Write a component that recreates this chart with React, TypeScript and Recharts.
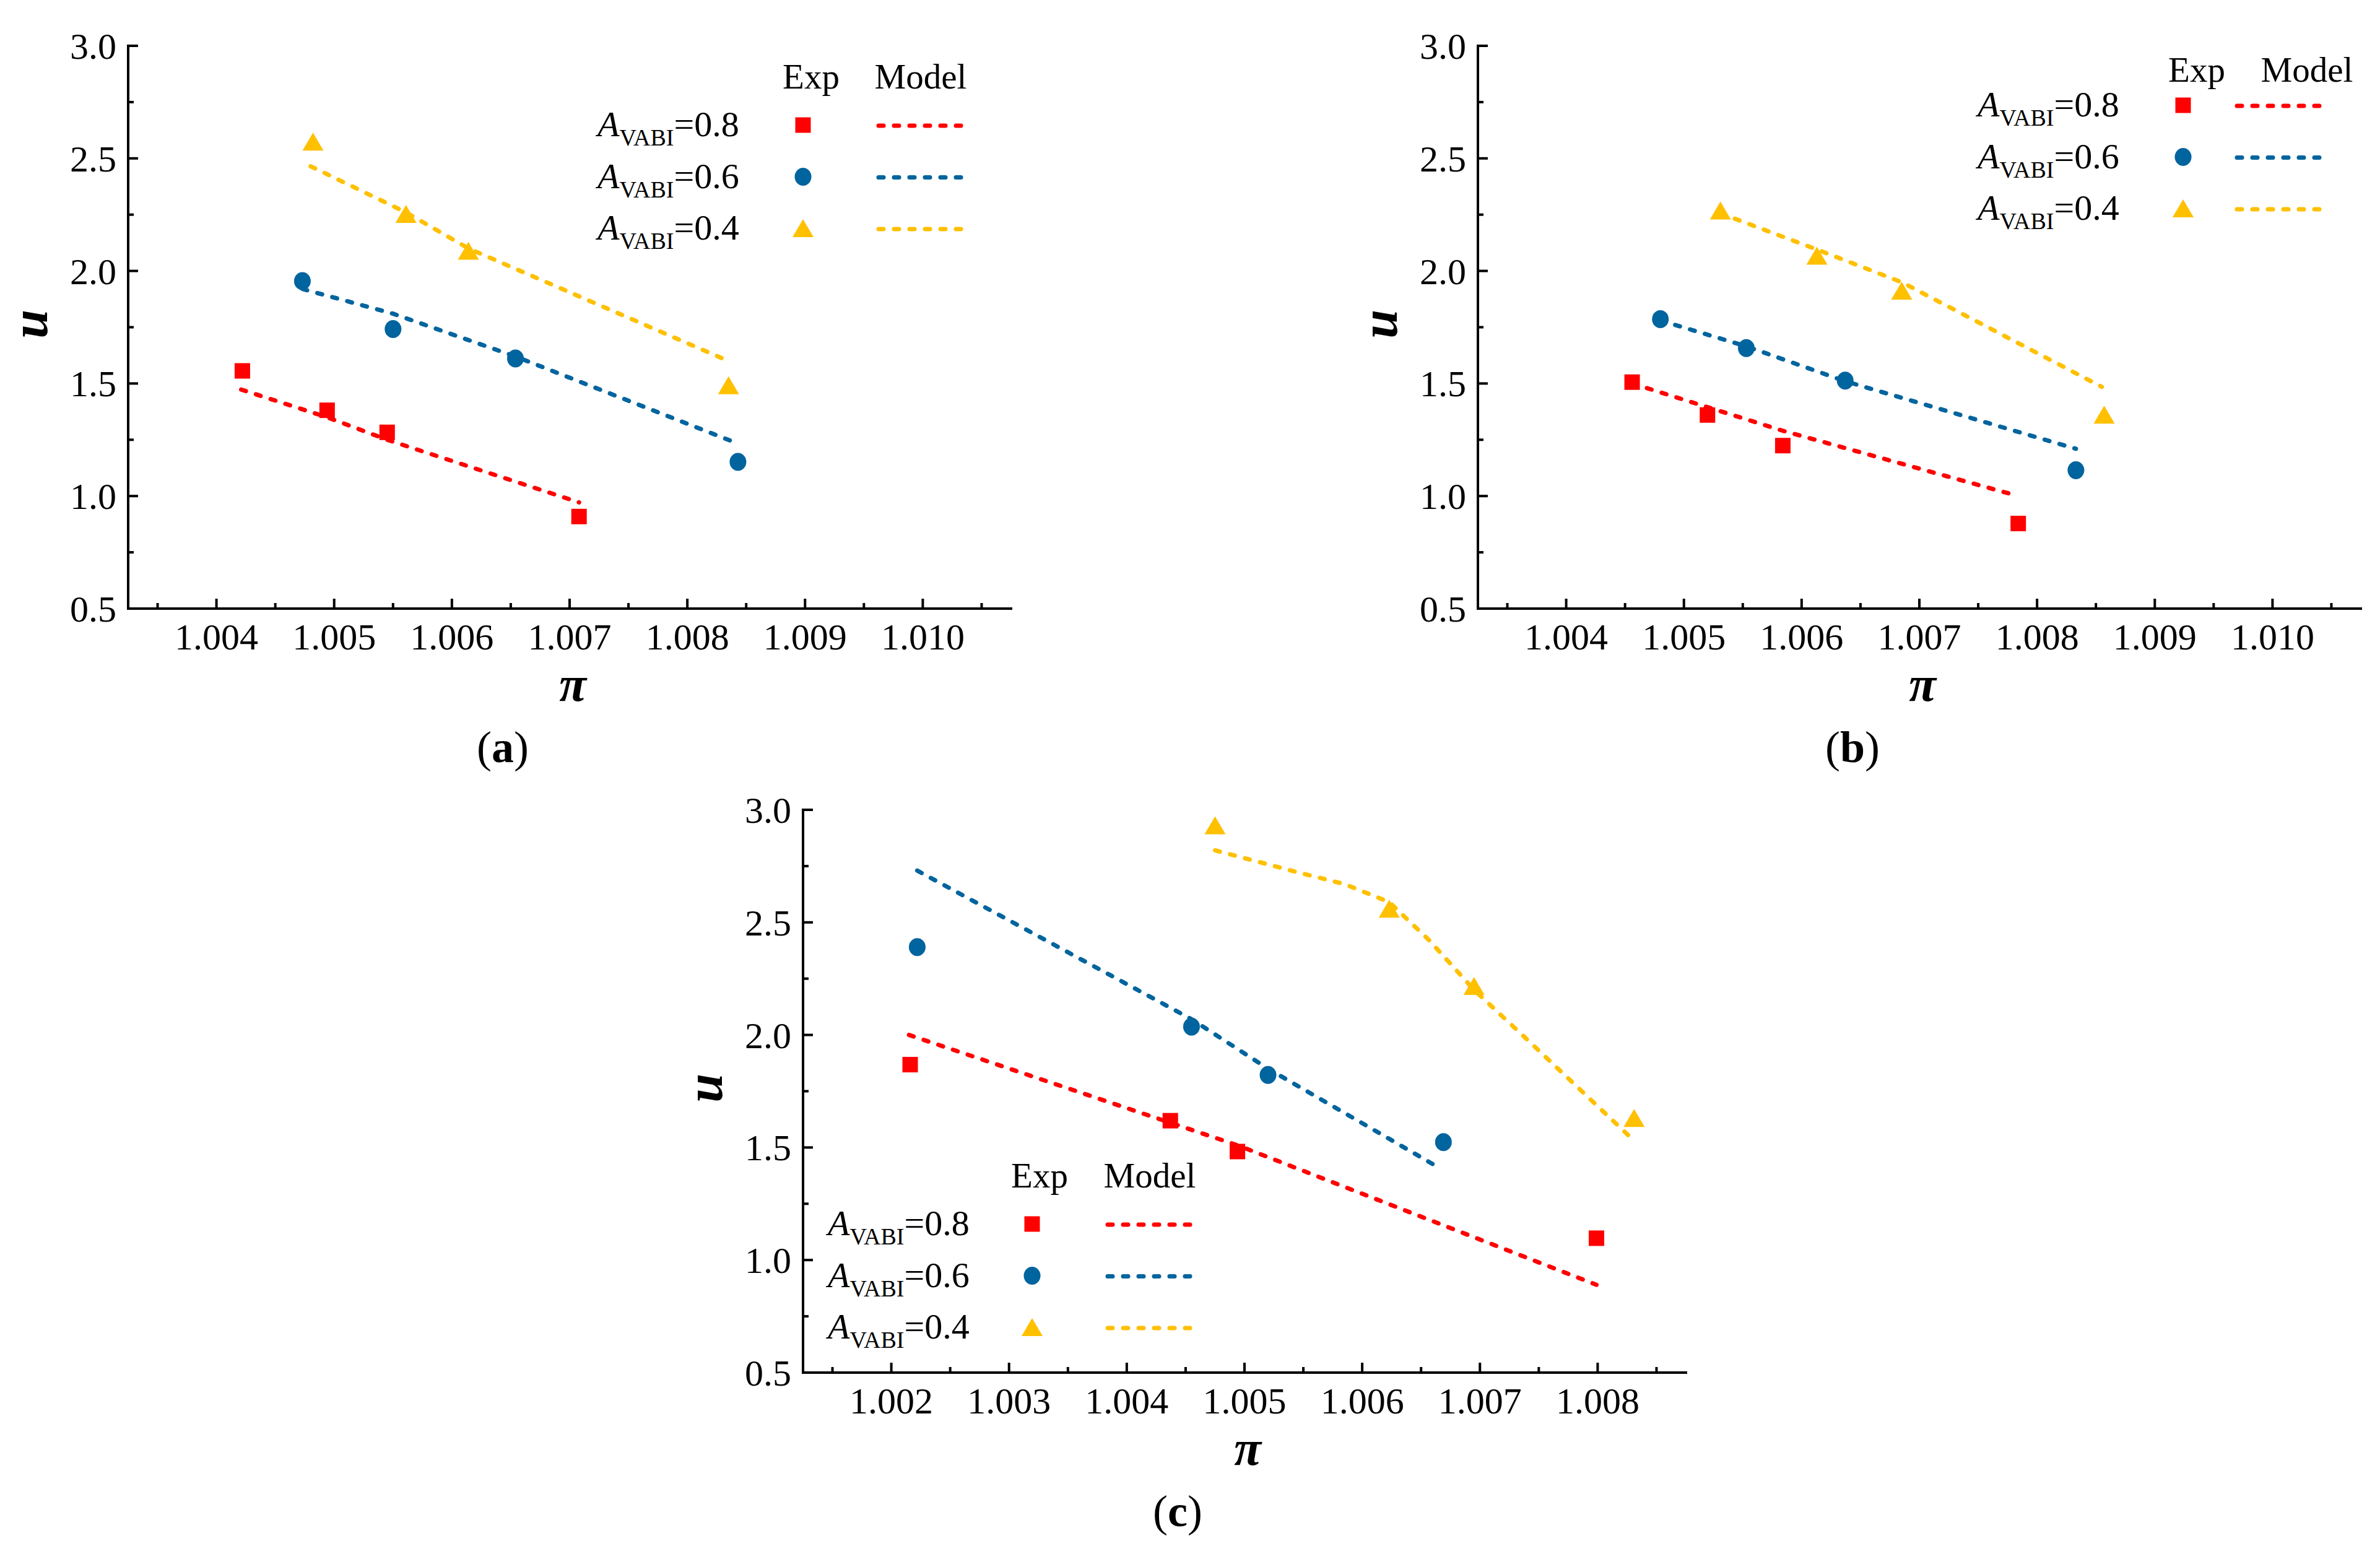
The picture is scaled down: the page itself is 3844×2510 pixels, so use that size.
import React from "react";
import { ScatterChart, Scatter, XAxis, YAxis, Legend } from "recharts";

const SERIF = '"Liberation Serif", "Times New Roman", Times, serif';
const RED = "#FF0000";
const BLUE = "#00649E";
const GOLD = "#FFC000";

type Pt = [number, number];

// (a) experiment points and model curves, [pi, u]
const a08Exp: Pt[] = [[1.00422, 1.556], [1.00494, 1.381], [1.00545, 1.283], [1.00708, 0.909]];
const a08Model: Pt[] = [[1.00421, 1.473], [1.00494, 1.35], [1.00545, 1.25], [1.00708, 0.972]];
const a06Exp: Pt[] = [[1.00473, 1.955], [1.0055, 1.742], [1.00654, 1.611], [1.00843, 1.152]];
const a06Model: Pt[] = [[1.00473, 1.92], [1.0055, 1.81], [1.00654, 1.62], [1.00843, 1.233]];
const a04Exp: Pt[] = [[1.00482, 2.573], [1.00561, 2.252], [1.00614, 2.088], [1.00835, 1.491]];
const a04Model: Pt[] = [[1.0048, 2.465], [1.00561, 2.26], [1.00614, 2.1], [1.0083, 1.611]];

// (b)
const b08Exp: Pt[] = [[1.00456, 1.506], [1.0052, 1.36], [1.00584, 1.224], [1.00784, 0.878]];
const b08Model: Pt[] = [[1.00456, 1.5], [1.0052, 1.395], [1.00584, 1.29], [1.00784, 1.0]];
const b06Exp: Pt[] = [[1.0048, 1.786], [1.00553, 1.657], [1.00637, 1.513], [1.00833, 1.115]];
const b06Model: Pt[] = [[1.0048, 1.78], [1.00553, 1.665], [1.00637, 1.51], [1.00833, 1.21]];
const b04Exp: Pt[] = [[1.00531, 2.267], [1.00613, 2.066], [1.00685, 1.911], [1.00857, 1.36]];
const b04Model: Pt[] = [[1.00531, 2.256], [1.00613, 2.095], [1.00685, 1.95], [1.00855, 1.485]];

// (c)
const c08Exp: Pt[] = [[1.00216, 1.868], [1.00437, 1.619], [1.00494, 1.482], [1.00799, 1.097]];
const c08Model: Pt[] = [[1.00215, 2.0], [1.00437, 1.61], [1.00494, 1.51], [1.00799, 0.89]];
const c06Exp: Pt[] = [[1.00222, 2.39], [1.00455, 2.037], [1.0052, 1.822], [1.00669, 1.524]];
const c06Model: Pt[] = [[1.00222, 2.73], [1.00455, 2.07], [1.0052, 1.85], [1.00667, 1.405]];
const c04Exp: Pt[] = [[1.00475, 2.93], [1.00623, 2.559], [1.00695, 2.216], [1.00831, 1.63]];
const c04Model: Pt[] = [
  [1.00475, 2.82], [1.00547, 2.72], [1.00585, 2.67], [1.00623, 2.59],
  [1.00657, 2.42], [1.00695, 2.2], [1.0074, 1.98], [1.00831, 1.53],
];

// axes
const xDomainAB: [number, number] = [1.00325, 1.01075];
const xDomainC: [number, number] = [1.00125, 1.00875];
const xMajorAB = [1.004, 1.005, 1.006, 1.007, 1.008, 1.009, 1.01];
const xMinorAB = [1.0035, 1.0045, 1.0055, 1.0065, 1.0075, 1.0085, 1.0095, 1.0105];
const xMajorC = [1.002, 1.003, 1.004, 1.005, 1.006, 1.007, 1.008];
const xMinorC = [1.0015, 1.0025, 1.0035, 1.0045, 1.0055, 1.0065, 1.0075, 1.0085];
const yMajor = [0.5, 1.0, 1.5, 2.0, 2.5, 3.0];
const yMinor = [0.75, 1.25, 1.75, 2.25, 2.75];
const legendValues = ["0.8", "0.6", "0.4"];

const PLOT_W = 1426;
const PLOT_H = 909;
const PAD = 40; // extra room left of the y axis block
const ML = 207;
const MT = 74;
const MR = 30;
const XAXIS_H = 280;

const toPts = (arr: Pt[]) => arr.map(([x, y]) => ({ x, y }));
const near = (list: number[], v: number) => list.some((m) => Math.abs(m - v) < 1e-9);

const SquareDot = ({ cx, cy }: any) => (
  <rect x={cx - 12.5} y={cy - 12.5} width={25} height={25} fill={RED} />
);
const RoundDot = ({ cx, cy }: any) => <ellipse cx={cx} cy={cy} rx={13.5} ry={14.5} fill={BLUE} />;
const TriDot = ({ cx, cy }: any) => (
  <polygon points={`${cx},${cy - 15} ${cx + 17},${cy + 14} ${cx - 17},${cy + 14}`} fill={GOLD} />
);
const NoDot = () => <g />;

const dash = (color: string) => ({
  stroke: color,
  strokeWidth: 7,
  strokeDasharray: "8 17",
  strokeLinecap: "round" as const,
});

const makeXTick = (majors: number[]) => (props: any) => {
  const { x, y, payload } = props;
  const v = payload.value as number;
  const major = near(majors, v);
  return (
    <g>
      <line x1={x} x2={x} y1={y} y2={y - (major ? 16 : 9)} stroke="#000" strokeWidth={4} />
      {major && (
        <text x={x} y={y + 66} textAnchor="middle" fontSize={60} fontFamily={SERIF} fill="#000">
          {v.toFixed(3)}
        </text>
      )}
    </g>
  );
};

const YTick = (props: any) => {
  const { x, y, payload } = props;
  const v = payload.value as number;
  const major = near(yMajor, v);
  return (
    <g>
      <line x1={x} x2={x + (major ? 16 : 9)} y1={y} y2={y} stroke="#000" strokeWidth={4} />
      {major && (
        <text x={x - 19} y={y + 21} textAnchor="end" fontSize={60} fontFamily={SERIF} fill="#000">
          {v.toFixed(1)}
        </text>
      )}
    </g>
  );
};

const makeXLabel = (tag: string) => (props: any) => {
  const { x, y, width } = props.viewBox;
  const cx = x + width / 2;
  return (
    <g>
      <text x={cx + 5} y={y + 149} textAnchor="middle" fontSize={80} fontStyle="italic" fontWeight="bold" fontFamily={SERIF} fill="#000">
        π
      </text>
      <text x={cx - 108} y={y + 248} textAnchor="middle" fontSize={72} fontFamily={SERIF} fill="#000">
        (<tspan fontWeight="bold">{tag}</tspan>)
      </text>
    </g>
  );
};

const YLabel = (props: any) => {
  const { x, y, width, height } = props.viewBox;
  const bx = x + width - 131;
  const by = y + height / 2 - 5;
  return (
    <text x={bx} y={by} transform={`rotate(-90 ${bx} ${by})`} textAnchor="middle" fontSize={84} fontStyle="italic" fontWeight="bold" fontFamily={SERIF} fill="#000">
      u
    </text>
  );
};

interface LegendCfg {
  x: number;
  y: number;
  rowDy: number;
  expDx: number;
  modelDx: number;
  markDx: number;
  lineDx: number;
}

const legendRows = [
  { value: legendValues[0], color: RED, Mark: SquareDot },
  { value: legendValues[1], color: BLUE, Mark: RoundDot },
  { value: legendValues[2], color: GOLD, Mark: TriDot },
];

function LegendBox({ cfg }: { cfg: LegendCfg }) {
  return (
    <svg width={660} height={330} style={{ display: "block", overflow: "visible" }}>
      <text x={cfg.expDx} y={60} textAnchor="middle" fontSize={57} fontFamily={SERIF} fill="#000">
        Exp
      </text>
      <text x={cfg.modelDx} y={60} textAnchor="middle" fontSize={57} fontFamily={SERIF} fill="#000">
        Model
      </text>
      {legendRows.map((r, i) => {
        const by = 60 + cfg.rowDy + i * 83.5;
        const Mark = r.Mark;
        return (
          <g key={r.value}>
            <text x={0} y={by} fontSize={58} fontFamily={SERIF} fill="#000">
              <tspan fontStyle="italic">A</tspan>
              <tspan fontSize={38} dy={15}>VABI</tspan>
              <tspan dy={-15}>={r.value}</tspan>
            </text>
            <Mark cx={cfg.markDx} cy={by - 18} />
            <line x1={cfg.lineDx} x2={cfg.lineDx + 148} y1={by - 17} y2={by - 17} {...dash(r.color)} />
          </g>
        );
      })}
    </svg>
  );
}

interface PanelProps {
  plotLeft: number;
  plotTop: number;
  tag: string;
  domain: [number, number];
  majors: number[];
  minors: number[];
  exp: Pt[][];
  model: Pt[][];
  legend: LegendCfg;
}

function Panel({ plotLeft, plotTop, tag, domain, majors, minors, exp, model, legend }: PanelProps) {
  const xTicks = [...majors, ...minors].sort((p, q) => p - q);
  const yTicks = [...yMajor, ...yMinor].sort((p, q) => p - q);
  const frame = { stroke: "#000", strokeWidth: 4, strokeLinecap: "square" as const };
  const shapes = [SquareDot, RoundDot, TriDot];
  const colors = [RED, BLUE, GOLD];
  return (
    <div style={{ position: "absolute", left: plotLeft - ML - PAD, top: plotTop - MT }}>
      <ScatterChart
        width={PAD + ML + PLOT_W + MR}
        height={MT + PLOT_H + XAXIS_H}
        margin={{ top: MT, right: MR, bottom: 0, left: PAD }}
      >
        <XAxis
          type="number"
          dataKey="x"
          domain={domain}
          allowDataOverflow
          ticks={xTicks}
          interval={0}
          tickSize={0}
          tickMargin={0}
          tickLine={false}
          tick={makeXTick(majors)}
          axisLine={frame}
          height={XAXIS_H}
          label={makeXLabel(tag)}
        />
        <XAxis
          xAxisId="top"
          orientation="top"
          type="number"
          dataKey="x"
          domain={domain}
          allowDataOverflow
          tick={false}
          tickLine={false}
          axisLine={frame}
          height={0}
        />
        <YAxis
          type="number"
          dataKey="y"
          domain={[0.5, 3.0]}
          allowDataOverflow
          ticks={yTicks}
          interval={0}
          tickSize={0}
          tickMargin={0}
          tickLine={false}
          tick={YTick}
          axisLine={frame}
          width={ML}
          label={YLabel}
        />
        <YAxis
          yAxisId="right"
          orientation="right"
          type="number"
          dataKey="y"
          domain={[0.5, 3.0]}
          allowDataOverflow
          tick={false}
          tickLine={false}
          axisLine={frame}
          width={0}
        />
        {model.map((m, i) => (
          <Scatter
            key={`m${i}`}
            data={toPts(m)}
            line={dash(colors[i])}
            shape={NoDot}
            isAnimationActive={false}
          />
        ))}
        {exp.map((e, i) => (
          <Scatter key={`e${i}`} data={toPts(e)} shape={shapes[i]} isAnimationActive={false} />
        ))}
        <Legend
          layout="vertical"
          align="center"
          verticalAlign="middle"
          wrapperStyle={{ left: PAD + ML + legend.x, top: MT + legend.y - 60, width: 660, height: 330 }}
          content={() => <LegendBox cfg={legend} />}
        />
      </ScatterChart>
    </div>
  );
}

export default function App() {
  return (
    <div
      style={{
        position: "absolute",
        left: 0,
        top: 0,
        width: 3844,
        height: 2510,
        background: "#fff",
        overflow: "hidden",
      }}
    >
      <Panel
        plotLeft={207}
        plotTop={74}
        tag="a"
        domain={xDomainAB}
        majors={xMajorAB}
        minors={xMinorAB}
        exp={[a08Exp, a06Exp, a04Exp]}
        model={[a08Model, a06Model, a04Model]}
        legend={{ x: 758, y: 69, rowDy: 77, expDx: 345, modelDx: 522, markDx: 332, lineDx: 454 }}
      />
      <Panel
        plotLeft={2387}
        plotTop={74}
        tag="b"
        domain={xDomainAB}
        majors={xMajorAB}
        minors={xMinorAB}
        exp={[b08Exp, b06Exp, b04Exp]}
        model={[b08Model, b06Model, b04Model]}
        legend={{ x: 807, y: 58, rowDy: 56, expDx: 354, modelDx: 532, markDx: 332, lineDx: 419 }}
      />
      <Panel
        plotLeft={1297}
        plotTop={1308}
        tag="c"
        domain={xDomainC}
        majors={xMajorC}
        minors={xMinorC}
        exp={[c08Exp, c06Exp, c04Exp]}
        model={[c08Model, c06Model, c04Model]}
        legend={{ x: 40, y: 610, rowDy: 77, expDx: 342, modelDx: 520, markDx: 330, lineDx: 452 }}
      />
    </div>
  );
}
